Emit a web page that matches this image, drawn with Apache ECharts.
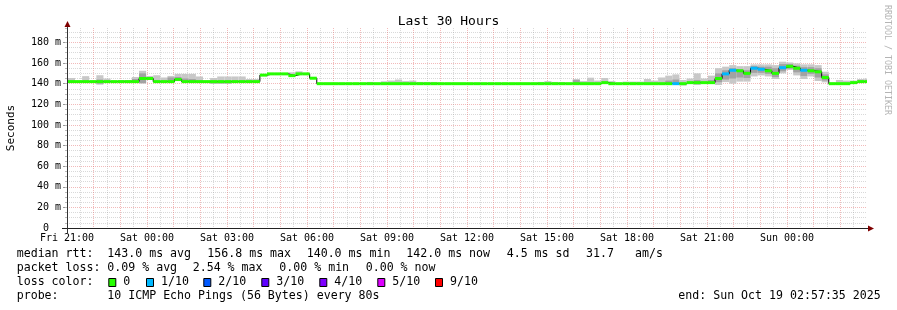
<!DOCTYPE html>
<html><head><meta charset="utf-8">
<script src="https://cdn.jsdelivr.net/npm/echarts@6/dist/echarts.min.js"></script>
<style>html,body{margin:0;padding:0;background:#fff}#c{width:897px;height:310px}</style>
</head><body><div id="c"></div>
<script>
const _ = null;
// x axis: minutes since Fri 21:00; one label every 3 hours
const TICK_LABELS = ['Fri 21:00','Sat 00:00','Sat 03:00','Sat 06:00','Sat 09:00','Sat 12:00','Sat 15:00','Sat 18:00','Sat 21:00','Sun 00:00','Sun 03:00'];
const SPAN_MIN = 1800, BIN_MIN = 16, BIN_OFFSET = 2;
// median RTT per 16-minute bin (ms)
const MEDIAN = [
142,142,142,142,142,142,142,142,142,142,
145,145,142,142,142,144,142,142,142,142,
142,142,142,142,142,142,142,148.3,149.5,149.5,
149.5,147.8,149.5,149.5,145.3,140,140,140,140,140,
140,140,140,140,140,140,140,140,140,140,
140,140,140,140,140,140,140,140,140,140,
140,140,140,140,140,140,140,140,140,140,
140,140,140,140,140,141,140,140,140,140,
140,140,140,140,140,140,140,141,141,141,
141,145,149.5,153,152.5,150,155,154,152.5,150,
155.5,156.8,155,153,152.5,151.5,146,140,140,140,
141,142,142];
// lost pings out of 10 per bin
const LOSS = [
0,0,0,0,0,0,0,0,0,0, 0,0,0,0,0,0,0,0,0,0, 0,0,0,0,0,0,0,0,0,0,
0,0,0,0,0,0,0,0,0,0, 0,0,0,0,0,0,0,0,0,0, 0,0,0,0,0,0,0,0,0,0,
0,0,0,0,0,0,0,0,0,0, 0,0,0,0,0,0,0,0,0,0,
0,0,0,0,0,1,0,0,0,0,
0,0,1,1,0,0,1,1,0,0,
1,0,0,1,0,0,0,0,0,0,
0,0,0];
// smoke: outer spread of pings (ms)
const SMOKE_HI = [
145.5,_,147.3,_,148.2,145,_,143.5,143.5,146.5,
152.5,147.5,148.2,146,147.5,149.5,149.5,149.5,147,_,
145.5,147,147,147,147,144.5,144.5,_,_,_,
_,151,152,_,_,_,_,_,_,_,
_,_,141.7,_,142.3,143,144,142.5,143,141.7,
141.7,141.7,_,_,_,_,_,_,_,_,
_,_,_,_,_,_,141.7,142.5,141.7,141.5,
_,144.5,142.5,145.8,143,145.5,142.5,_,142,142,
142,144.5,143,146,147.8,149,143.6,145,150,145,
147.8,155,156.5,158,157,157,158.7,158.7,158.7,158,
161.3,160.6,159.7,158.7,158.7,158,151.6,141,143.6,143,
143,144.5,145];
const SMOKE_LO = [
_,_,_,_,139,_,_,_,_,_,
140,_,_,_,_,_,_,_,_,_,
140,140,140,_,_,_,_,_,_,_,
_,_,_,_,_,_,_,_,_,_,
_,_,_,_,_,_,_,_,_,_,
_,_,_,_,_,_,_,_,_,_,
_,_,_,_,_,_,_,_,_,_,
_,_,139,_,_,_,_,_,_,_,
_,_,_,_,_,_,138.2,_,138.7,_,
_,138.7,141.5,140,142,142,147,148,147,144.5,
150,153.3,148,144.5,147,142.6,141.3,139,_,_,
_,_,_];
// smoke: inner (denser) spread of pings (ms)
const CORE_HI = [
_,_,_,_,144,_,_,_,_,144.5,
150,_,_,_,146,146.5,145,144.5,_,_,
_,_,_,_,_,_,_,_,_,_,
_,_,_,_,_,_,_,_,_,_,
_,_,_,_,_,_,_,_,_,_,
_,_,_,_,_,_,_,_,_,_,
_,_,_,_,_,_,_,_,_,_,
_,143.5,_,_,_,_,_,_,_,_,
_,_,_,_,143,144,_,_,143.5,_,
143.5,150,153,155,154,153,157,156.5,156.5,155,
159,159,157.5,156,156,155,149,_,_,_,
_,_,_];
const CORE_LO = [
_,_,_,_,140,_,_,_,_,_,
140.6,_,_,_,_,_,_,_,_,_,
140.3,140.3,140.3,_,_,_,_,_,_,_,
_,_,_,_,_,_,_,_,_,_,
_,_,_,_,_,_,_,_,_,_,
_,_,_,_,_,_,_,_,_,_,
_,_,_,_,_,_,_,_,_,_,
_,_,_,_,_,_,_,_,_,_,
_,_,_,_,_,_,_,_,_,_,
_,141.5,144,145,146,145.5,150.5,150.5,149.5,146.5,
152,154.5,151,147.5,149.5,146,143,_,_,_,
_,_,_];
const LOSS_LABELS = ['0','1/10','2/10','3/10','4/10','5/10','9/10'];
const LOSS_COLORS = ['#26ff00','#00b8ff','#0059ff','#5e00ff','#7e00ff','#dd00ff','#ff0000'];
const STAT_MEDIAN = ['143.0 ms avg','156.8 ms max','140.0 ms min','142.0 ms now','4.5 ms sd','31.7','am/s'];
const STAT_LOSS = ['0.09 % avg','2.54 % max','0.00 % min','0.00 % now'];
const PROBE = '10 ICMP Echo Pings (56 Bytes) every 80s';
const END_TEXT = 'end: Sun Oct 19 02:57:35 2025';

const Y_MAX = 194;
const FONT = 'DejaVu Sans Mono';
const binStart = i => i === 0 ? 0 : BIN_OFFSET + BIN_MIN * i;
const binEnd = i => Math.min(SPAN_MIN, BIN_OFFSET + BIN_MIN * (i + 1));
const lossColor = n => n <= 0 ? LOSS_COLORS[0] : n <= 4 ? LOSS_COLORS[n] : n <= 8 ? LOSS_COLORS[5] : LOSS_COLORS[6];

const binData = MEDIAN.map((m, i) => [binStart(i), binEnd(i), m]);
const stepData = MEDIAN.map((m, i) => [binStart(i), m]);
stepData.push([SPAN_MIN, MEDIAN[MEDIAN.length - 1]]);

const MGRID = 'rgba(225,90,90,0.42)';
const GRID = 'rgba(150,150,150,0.36)';
const dotted = [1, 1];

function colorsFor(count, fn) { const a = []; for (let k = 0; k < count; k++) a.push(fn(k, count)); return a; }

const chart = echarts.init(document.getElementById('c'), null, {renderer: 'canvas'});

const g = [];
const txt = (text, x, y, size, extra) => g.push(Object.assign({type: 'text', x, y, z: 100,
  style: {text, font: size + 'px "' + FONT + '"', fill: '#000', align: 'left', verticalAlign: 'middle'}}, extra || {}));
// legend rows
const L1 = 254.3, L2 = 268.3, L3 = 282.3, L4 = 296.3, FS = 11.6;
txt('median rtt:', 16.7, L1, FS);
[107.3, 207.3, 306.7, 406.3, 506.7, 586, 635].forEach((x, k) => txt(STAT_MEDIAN[k], x, L1, FS));
txt('packet loss:', 16.7, L2, FS);
[107.3, 192.7, 279.3, 365.7].forEach((x, k) => txt(STAT_LOSS[k], x, L2, FS));
txt('loss color:', 16.7, L3, FS);
[108.3, 146, 203.3, 261.3, 319.3, 377.3, 435].forEach((x, k) => {
  g.push({type: 'rect', z: 100, shape: {x: x + 0.5, y: 278.5, width: 7, height: 8},
    style: {fill: LOSS_COLORS[k], stroke: '#000', lineWidth: 1}});
  txt(LOSS_LABELS[k], x + 15, L3, FS);
});
txt('probe:', 16.7, L4, FS);
txt(PROBE, 107.3, L4, FS);
txt(END_TEXT, 678.3, L4, FS);
// y axis name
g.push({type: 'text', x: 11, y: 128, rotation: Math.PI / 2, z: 100,
  style: {text: 'Seconds', font: '11px "' + FONT + '"', fill: '#000', align: 'center', verticalAlign: 'middle'}});
// watermark
g.push({type: 'text', x: 887.5, y: 60, rotation: -Math.PI / 2, z: 100,
  style: {text: 'RRDTOOL / TOBI OETIKER', font: '8.3px "' + FONT + '"', fill: '#b4b4b4', align: 'center', verticalAlign: 'middle'}});
// axis stubs and arrows
g.push({type: 'line', z: 100, shape: {x1: 62, y1: 228.5, x2: 868, y2: 228.5}, style: {stroke: '#222', lineWidth: 1}});
g.push({type: 'line', z: 100, shape: {x1: 67.5, y1: 26, x2: 67.5, y2: 233}, style: {stroke: '#333', lineWidth: 1}});
g.push({type: 'polygon', z: 101, shape: {points: [[868, 225.5], [874, 228.5], [868, 231.5]]}, style: {fill: '#7f0000'}});
g.push({type: 'polygon', z: 101, shape: {points: [[64.5, 27], [67.5, 21], [70.5, 27]]}, style: {fill: '#7f0000'}});

const option = {
  animation: false,
  backgroundColor: '#ffffff',
  title: {text: 'Last 30 Hours', left: 'center', top: 10,
    textStyle: {fontFamily: FONT, fontSize: 13, fontWeight: 'normal', color: '#000'}},
  grid: {left: 67, top: 28, width: 800, height: 200, containLabel: false, outerBoundsMode: 'none'},
  xAxis: [
    {type: 'value', min: 0, max: SPAN_MIN, interval: 180, position: 'bottom',
      axisLine: {show: false}, axisTick: {show: false}, splitLine: {show: false},
      axisLabel: {show: true, margin: 5, showMaxLabel: false, hideOverlap: false,
        fontFamily: FONT, fontSize: 10, color: '#000',
        formatter: v => TICK_LABELS[Math.round(v / 180)] || ''}},
    {type: 'value', min: 0, max: SPAN_MIN, interval: 60, position: 'bottom',
      axisLine: {show: false}, axisTick: {show: false}, axisLabel: {show: false},
      splitLine: {show: true, lineStyle: {type: dotted, width: 1,
        color: colorsFor(31, (k, n) => (k === 0 || k === n - 1) ? 'rgba(0,0,0,0)' : MGRID)}}},
    {type: 'value', min: 0, max: SPAN_MIN, interval: 30, position: 'bottom',
      axisLine: {show: false}, axisTick: {show: false}, axisLabel: {show: false},
      splitLine: {show: true, lineStyle: {type: dotted, width: 1,
        color: colorsFor(61, k => (k % 2 === 0) ? 'rgba(0,0,0,0)' : GRID)}}}
  ],
  yAxis: [
    {type: 'value', min: 0, max: Y_MAX, interval: 20, position: 'left',
      axisLine: {show: false},
      axisTick: {show: true, length: 4, lineStyle: {color: '#999'}},
      axisLabel: {show: true, margin: 6, showMaxLabel: false, fontFamily: FONT, fontSize: 10, color: '#000',
        formatter: v => v === 0 ? '0  ' : (v % 20 === 0 ? v + ' m' : '')},
      splitLine: {show: true, showMaxLine: false, lineStyle: {type: dotted, width: 1,
        color: colorsFor(11, (k, n) => (k === 0 || k === n - 1) ? 'rgba(0,0,0,0)' : MGRID)}}},
    {type: 'value', min: 0, max: Y_MAX, interval: 5, position: 'left',
      axisLine: {show: false}, axisLabel: {show: false},
      axisTick: {show: true, length: 2, lineStyle: {color: '#bbb'}},
      splitLine: {show: true, showMaxLine: false, lineStyle: {type: dotted, width: 1,
        color: colorsFor(40, (k, n) => (k % 4 === 0 || k === n - 1) ? 'rgba(0,0,0,0)' : GRID)}}}
  ],
  series: [
    {name: 'smoke', type: 'custom', xAxisIndex: 0, yAxisIndex: 0, z: 2, silent: true,
      encode: {x: [0, 1], y: 2}, data: binData,
      renderItem: (params, api) => {
        const i = params.dataIndex;
        const s = binStart(i), e = binEnd(i), m = MEDIAN[i];
        const children = [];
        const band = (lo, hi, fill) => {
          const p0 = api.coord([s, hi]), p1 = api.coord([e, lo]);
          children.push({type: 'rect', shape: {x: p0[0], y: p0[1], width: p1[0] - p0[0], height: p1[1] - p0[1]}, style: {fill}});
        };
        const lo = SMOKE_LO[i] ?? m, hi = SMOKE_HI[i] ?? m;
        if (hi > lo) band(lo, hi, '#c8c8c8');
        const clo = CORE_LO[i] ?? m, chi = CORE_HI[i] ?? m;
        if (chi > clo) band(clo, chi, '#a2a2a2');
        return {type: 'group', children};
      }},
    {name: 'median', type: 'line', xAxisIndex: 0, yAxisIndex: 0, z: 3, step: 'end', symbol: 'none', silent: true,
      data: stepData, lineStyle: {color: '#000', width: 1}},
    {name: 'loss', type: 'custom', xAxisIndex: 0, yAxisIndex: 0, z: 4, silent: true,
      encode: {x: [0, 1], y: 2}, data: binData,
      renderItem: (params, api) => {
        const i = params.dataIndex;
        const p0 = api.coord([binStart(i), MEDIAN[i]]), p1 = api.coord([binEnd(i), MEDIAN[i]]);
        return {type: 'rect', shape: {x: p0[0], y: p0[1] - 1.5, width: p1[0] - p0[0], height: 3},
          style: {fill: lossColor(LOSS[i])}};
      }}
  ],
  graphic: {elements: g}
};
chart.setOption(option);
</script></body></html>
